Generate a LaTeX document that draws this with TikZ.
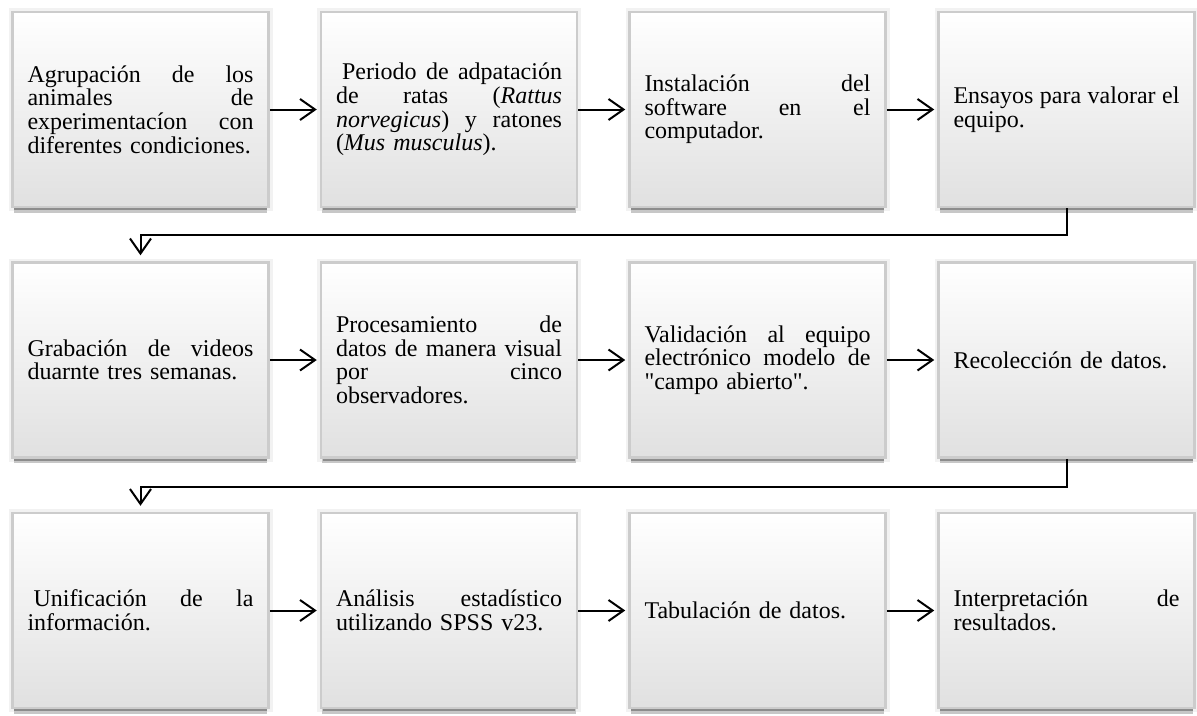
\documentclass[tikz,border=0pt]{standalone}
\usepackage{fontspec}
\setmainfont{Liberation Serif}
\newfontfamily\qfont{Liberation Serif}
\usetikzlibrary{arrows.meta,shadows}
\setlength{\parindent}{0pt}
\newcommand{\boxfont}{\fontsize{24pt}{23.6pt}\selectfont}
\newcommand{\dq}{{\qfont "}}
\begin{document}
\lineskiplimit=-100pt
\begin{tikzpicture}[x=1pt,y=-1pt,
  procbox/.style={
    preaction={draw=black!5, line width=8pt},
    general shadow={shadow scale=0.99, shadow yshift=-7pt, fill=black!22},
    general shadow={shadow scale=0.985, shadow yshift=-5pt, fill=black!45},
    draw=black!20, line width=2.5pt,
    top color=white, middle color=black!2, bottom color=black!12,
    minimum width=256pt, minimum height=195pt, text width=226pt,
    inner sep=0pt, align=left, font=\boxfont},
  flow/.style={draw=black, line width=2pt,
    -{Straight Barb[length=15pt,width=21pt]}, shorten >=3pt},
]
\useasboundingbox (0,0) rectangle (1197,715);

% row 1
\node[procbox] (b1) at (140.5,109.5) {Agrupación\hfill de\hfill los\\animales\hfill de\\experimentacíon\hfill con\\diferentes condiciones.};
\node[procbox] (b2) at (449,109.5) {\hspace*{6pt}Periodo\hfill de\hfill adpatación\\de\hfill ratas\hfill (\textit{Rattus}\\\textit{norvegicus})\hfill y\hfill ratones\\(\textit{Mus musculus}).};
\node[procbox] (b3) at (757.5,109.5) {Instalación\hfill del\\software\hfill en\hfill el\\computador.};
\node[procbox] (b4) at (1066.5,109.5) {Ensayos\hfill para\hfill valorar\hfill el\\equipo.};

% row 2
\node[procbox] (b5) at (140.5,360) {Grabación\hfill de\hfill videos\\duarnte tres semanas.};
\node[procbox] (b6) at (449,360) {Procesamiento\hfill de\\datos\hfill de\hfill manera\hfill visual\\por\hfill cinco\\observadores.};
\node[procbox] (b7) at (757.5,360) {Validación\hfill al\hfill equipo\\electrónico\hfill modelo\hfill de\\\dq campo abierto\dq.};
\node[procbox] (b8) at (1066.5,360) {Recolección de datos.};

% row 3
\node[procbox] (b9) at (140.5,610.5) {\hspace*{6pt}Unificación\hfill de\hfill la\\información.};
\node[procbox] (b10) at (449,610.5) {Análisis\hfill estadístico\\utilizando SPSS v23.};
\node[procbox] (b11) at (757.5,610.5) {Tabulación de datos.};
\node[procbox] (b12) at (1066.5,610.5) {Interpretación\hfill de\\resultados.};

% horizontal arrows
\draw[flow] (b1.east) -- (b2.west);
\draw[flow] (b2.east) -- (b3.west);
\draw[flow] (b3.east) -- (b4.west);
\draw[flow] (b5.east) -- (b6.west);
\draw[flow] (b6.east) -- (b7.west);
\draw[flow] (b7.east) -- (b8.west);
\draw[flow] (b9.east) -- (b10.west);
\draw[flow] (b10.east) -- (b11.west);
\draw[flow] (b11.east) -- (b12.west);

% row connectors
\coordinate (t1) at (140.5,234.5);
\coordinate (t2) at (140.5,486.5);
\draw[flow, shorten >=6pt] (b4.south) |- (t1) -- (b5.north);
\draw[flow, shorten >=6pt] (b8.south) |- (t2) -- (b9.north);
\end{tikzpicture}
\end{document}
